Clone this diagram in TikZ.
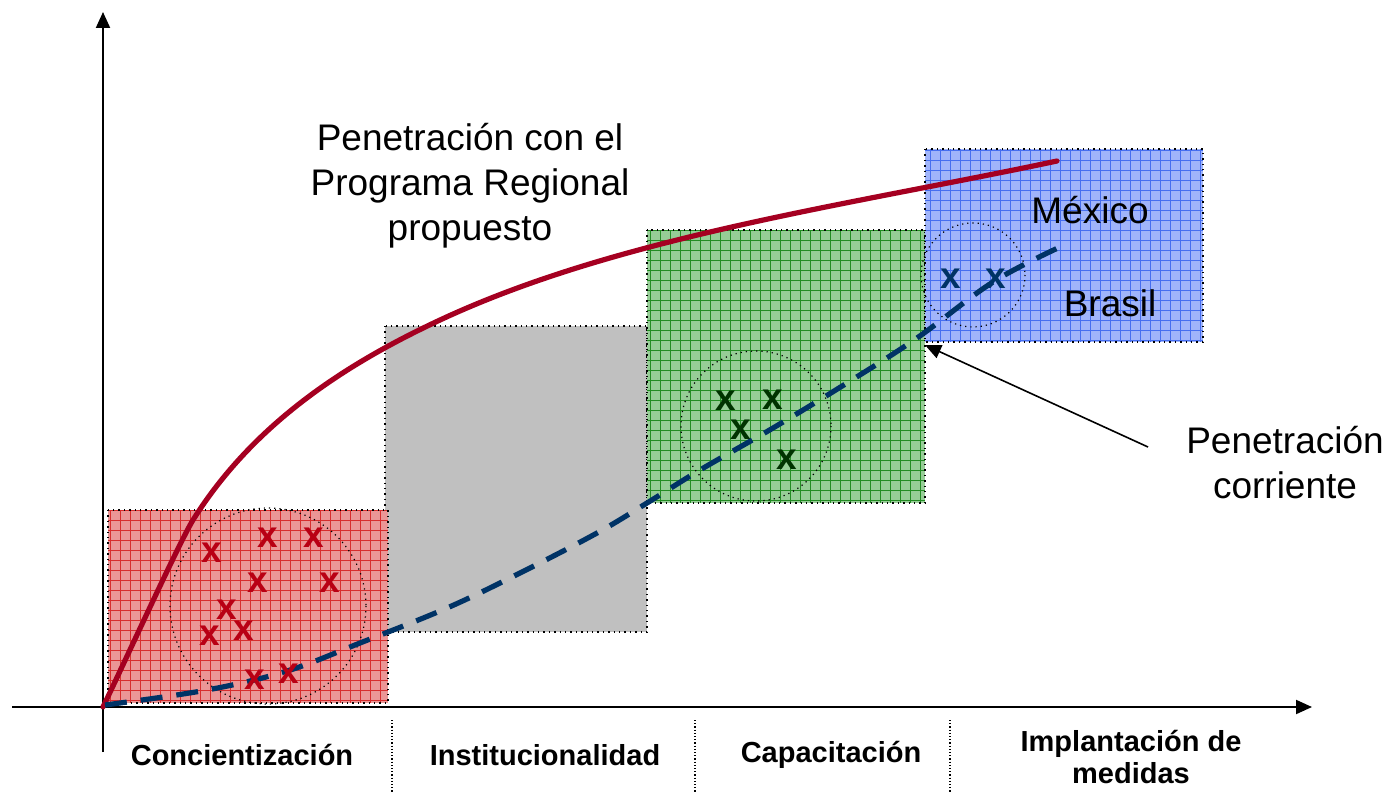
\documentclass[tikz,border=0pt]{standalone}
\usepackage{fontspec}
\setmainfont{Liberation Sans}
\usetikzlibrary{arrows.meta}
\definecolor{curvered}{RGB}{165,0,33}
\definecolor{curveblue}{RGB}{0,51,102}
\definecolor{xred}{RGB}{185,0,20}
\definecolor{xgreen}{RGB}{0,51,0}
\definecolor{boxred}{RGB}{235,150,150}
\definecolor{gridred}{RGB}{215,45,45}
\definecolor{boxgreen}{RGB}{150,205,150}
\definecolor{gridgreen}{RGB}{35,140,35}
\definecolor{boxblue}{RGB}{160,180,250}
\definecolor{gridblue}{RGB}{70,110,240}
\definecolor{boxgray}{RGB}{192,192,192}
\tikzset{
    x=0.5pt, y=-0.5pt, % one unit is one pixel of the sketch
    every node/.style={font=\fontsize{18.5}{22.5}\selectfont, align=center}, % text of the labels
    >={Triangle[length=8pt, width=7pt]}, % filled arrow heads
}

\begin{document}
\begin{tikzpicture}[
        gridbox/.style 2 args={fill=#1, draw=black, dotted, line width=0.7pt,
            path picture={\draw[#2, solid, line width=0.35pt, step=5pt]
                (path picture bounding box.south west) grid (path picture bounding box.north east);}},
        zone/.style={draw=black, dotted, line width=0.6pt},
        crossmark/.style={font=\bfseries\fontsize{18.5}{18}\selectfont, inner sep=0pt},
        phase/.style={font=\bfseries\fontsize{14.5}{16}\selectfont},
        axis/.style={line width=1pt, ->},
    ]
    \useasboundingbox (0,0) rectangle (1395,792);
    % phases
    \fill[boxgray, draw=black, dotted, line width=0.7pt] (385,326) rectangle (647,632);
    \draw[gridbox={boxred}{gridred}] (108,510) rectangle (388,703);
    \draw[gridbox={boxgreen}{gridgreen}] (647,230) rectangle (925,503);
    \draw[gridbox={boxblue}{gridblue}] (925,149) rectangle (1203,342);
    % country groups
    \draw[zone] (268,606) circle[radius=98];
    \draw[zone] (756,426) circle[radius=75];
    \draw[zone] (973,275) circle[radius=52];
    % axes
    \coordinate (O) at (103,707);
    \coordinate (ytop) at (103,12);
    \coordinate (ybot) at (103,752);
    \coordinate (xleft) at (12,707);
    \coordinate (xright) at (1312,707);
    \draw[axis] (ybot) -- (ytop);
    \draw[axis] (xleft) -- (xright);
    \draw[densely dotted, line width=0.6pt] (392,720) -- (392,792);
    \draw[densely dotted, line width=0.6pt] (695,720) -- (695,792);
    \draw[densely dotted, line width=0.6pt] (950,720) -- (950,792);
    % curves
    \draw[curvered, line width=2.6pt, line cap=round] (O)
        .. controls (128,655) and (180,541) .. (193,520)
        .. controls (255,421) and (350,362) .. (440,320)
        .. controls (620,236) and (850,205) .. (1057,161);
    \draw[curveblue, line width=2.6pt, dash pattern=on 11pt off 7pt] plot[smooth, tension=0.6] coordinates {
        (105,705) (207,690) (287,671) (360,643) (447,608) (520,573) (597,533)
        (647,503) (700,470) (773,428) (847,383) (917,338) (993,282) (1060,247)};
    % marks
    \node[crossmark, xred] (r1) at (212,553) {x};
    \node[crossmark, xred] (r2) at (268,538) {x};
    \node[crossmark, xred] (r3) at (314,538) {x};
    \node[crossmark, xred] (r4) at (258,583) {x};
    \node[crossmark, xred] (r5) at (330,583) {x};
    \node[crossmark, xred] (r6) at (227,610) {x};
    \node[crossmark, xred] (r7) at (244,631) {x};
    \node[crossmark, xred] (r8) at (210,636) {x};
    \node[crossmark, xred] (r9) at (255,680) {x};
    \node[crossmark, xred] (r10) at (289,674) {x};
    \node[crossmark, xgreen] (g1) at (726,401) {x};
    \node[crossmark, xgreen] (g2) at (773,400) {x};
    \node[crossmark, xgreen] (g3) at (741,430) {x};
    \node[crossmark, xgreen] (g4) at (787,460) {x};
    \node[crossmark, curveblue] (b1) at (951,279) {x};
    \node[crossmark, curveblue] (b2) at (996,279) {x};
    % labels
    \node (prop) at (470,186) {Penetración con el\\Programa Regional\\propuesto};
    \node (mex) at (1090,210) {México};
    \node (bra) at (1110,303) {Brasil};
    \node (corr) at (1285,463) {Penetración\\corriente};
    \coordinate (tail) at (1148,447);
    \coordinate (tip) at (925,345);
    \draw[->, line width=0.8pt] (tail) -- (tip);
    \node[phase] (conc) at (242,755) {Concientización};
    \node[phase] (inst) at (545,755) {Institucionalidad};
    \node[phase] (capa) at (831,755) {Capacitación};
    \node[phase] (impl) at (1131,757) {Implantación de\\medidas};
\end{tikzpicture}
\end{document}
